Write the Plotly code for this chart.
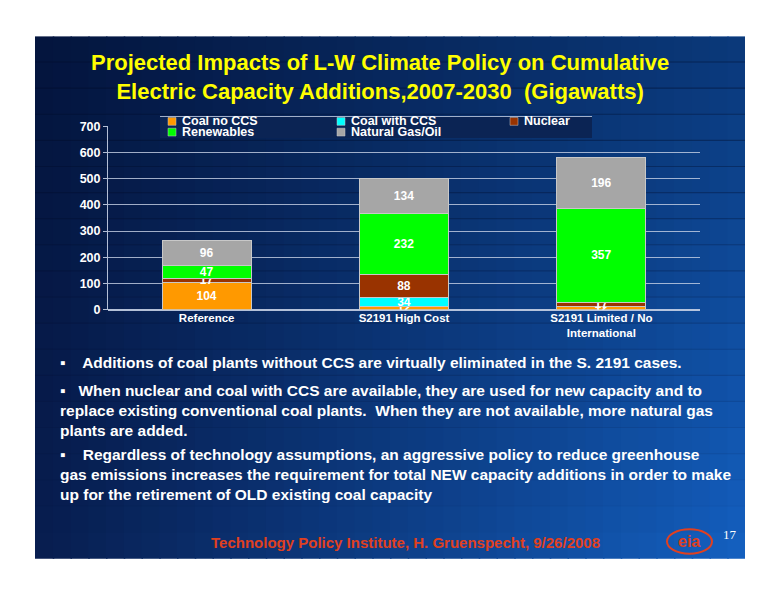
import plotly.graph_objects as go

categories = ["Reference", "S2191 High Cost", "S2191 Limited / No<br>International"]
coal_no_ccs = [104, 12, 12]
coal_ccs = [0, 34, 0]
nuclear = [17, 88, 17]
renewables = [47, 232, 357]
gas_oil = [96, 134, 196]

series = [("Coal no CCS", coal_no_ccs, "#FF9900"),
          ("Coal with CCS", coal_ccs, "#00FFFF"),
          ("Nuclear", nuclear, "#993300"),
          ("Renewables", renewables, "#00FF00"),
          ("Natural Gas/Oil", gas_oil, "#A6A6A6")]

W, H = 760, 584
OFF = 8
def px(r):
    return (r - OFF) / W
def py(r):
    return 1 - (r - OFF) / H

fig = go.Figure()
for name, vals, col in series:
    fig.add_trace(go.Bar(
        name=name, x=categories, y=vals, marker_color=col,
        marker_line=dict(color="#C8C8C8", width=1),
        text=[str(v) if v > 0 else "" for v in vals],
        textposition="inside", insidetextanchor="middle", textangle=0,
        constraintext="none",
        textfont=dict(color="white", size=12, family="Liberation Sans", weight="bold"),
    ))

shapes = []
x0, x1, y0, y1 = px(35), px(745), py(565), py(30)
n = 40
def lerp(a, b, t):
    return tuple(int(a[i] + (b[i] - a[i]) * t) for i in range(3))
c0, c1 = (8, 30, 80), (20, 95, 190)
for i in range(n):
    t = i / (n - 1)
    c = lerp(c0, c1, t)
    shapes.append(dict(type="rect", xref="paper", yref="paper", layer="below",
                       x0=x0 + (x1 - x0) * i / n, x1=min(x1, x0 + (x1 - x0) * (i + 1) / n + 0.002),
                       y0=y0, y1=y1, line_width=0, fillcolor="rgb(%d,%d,%d)" % c))
m = 20
for j in range(m):
    a = 0.45 * (j / (m - 1))
    shapes.append(dict(type="rect", xref="paper", yref="paper", layer="below",
                       x0=x0, x1=x1, y0=y0 + (y1 - y0) * j / m,
                       y1=min(y1, y0 + (y1 - y0) * (j + 1) / m + 0.002),
                       line_width=0, fillcolor="rgba(0,10,40,%.3f)" % a))
shapes.append(dict(type="circle", xref="paper", yref="paper", x0=px(667), x1=px(712),
                   y0=py(560), y1=py(535), line=dict(color="#E04020", width=2)))

white = "white"
ann = []
shapes.append(dict(type="rect", xref="paper", yref="paper", x0=px(160), x1=px(592),
                   y0=py(134), y1=py(112), fillcolor="#0B2454", line=dict(width=0)))
shapes.append(dict(type="line", xref="paper", yref="paper", x0=px(160), x1=px(592),
                   y0=py(112), y1=py(112), line=dict(color="rgba(200,210,230,0.8)", width=1)))
leg_pos = [(168, 117), (337, 117), (510, 117), (168, 128), (337, 128)]
for (name, _, col), (lx, ly) in zip(series, leg_pos):
    shapes.append(dict(type="rect", xref="paper", yref="paper", x0=px(lx), x1=px(lx + 8),
                       y0=py(ly + 4), y1=py(ly - 4), fillcolor=col, line=dict(color="#C8C8C8", width=0.5)))
    ann.append(dict(text="<b>%s</b>" % name, x=px(lx + 12), y=py(ly), xref="paper", yref="paper",
                    showarrow=False, xanchor="left", yanchor="middle",
                    font=dict(size=12.5, color=white, family="Liberation Sans")))

bf = dict(size=15.5, color=white, family="Liberation Sans")
def A(text, x, y, font, xanchor="center", align="center"):
    return dict(text=text, x=px(x), y=py(y), xref="paper", yref="paper", showarrow=False,
                xanchor=xanchor, yanchor="middle", font=font, align=align)
ann += [
    A("<b>Projected Impacts of L-W Climate Policy on Cumulative<br>Electric Capacity Additions,2007-2030  (Gigawatts)</b>",
      380, 72, dict(size=22, color="#FFFF00", family="Liberation Sans")),
    A("<b>▪    Additions of coal plants without CCS are virtually eliminated in the S. 2191 cases.</b>",
      58, 364, bf, "left", "left"),
    A("<b>▪   When nuclear and coal with CCS are available, they are used for new capacity and to<br>replace existing conventional coal plants.  When they are not available, more natural gas<br>plants are added.</b>",
      58, 413, bf, "left", "left"),
    A("<b>▪    Regardless of technology assumptions, an aggressive policy to reduce greenhouse<br>gas emissions increases the requirement for total NEW capacity additions in order to make<br>up for the retirement of OLD existing coal capacity</b>",
      58, 479, bf, "left", "left"),
    A("<b>Technology Policy Institute, H. Gruenspecht, 9/26/2008</b>",
      405, 548, dict(size=15, color="#E04020", family="Liberation Sans")),
    A("17", 730, 540, dict(size=13, color=white, family="Liberation Serif")),
    A("<b>eia</b>", 689, 547, dict(size=16, color="#E04020", family="Liberation Sans")),
]

fig.update_layout(
    width=W, height=H, margin=dict(l=0, r=0, t=0, b=0),
    paper_bgcolor="white", plot_bgcolor="rgba(0,0,0,0)",
    barmode="stack", bargap=0.55, showlegend=False,
    shapes=shapes, annotations=ann,
    font=dict(family="Liberation Sans", color=white),
)
fig.update_xaxes(domain=[px(108), px(700)], showgrid=False, showline=False, ticks="",
                 tickfont=dict(size=11.5, color=white, family="Liberation Sans", weight="bold"))
fig.update_yaxes(domain=[py(310), py(122)], range=[0, 700], dtick=100, showgrid=True,
                 gridcolor="rgba(200,210,230,0.8)", gridwidth=1, zeroline=True,
                 zerolinecolor="rgba(200,210,230,0.9)", showline=True, linecolor="rgba(200,210,230,0.9)",
                 tickfont=dict(size=12.5, color=white, family="Liberation Sans", weight="bold"),
                 ticks="outside", tickcolor="rgba(200,210,230,0.9)", ticklen=4)
fig.write_html("out.html")
